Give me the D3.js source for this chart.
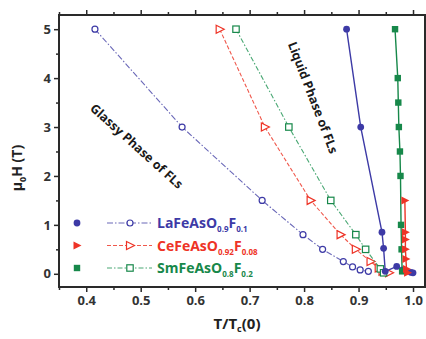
<!DOCTYPE html>
<html><head><meta charset="utf-8">
<script src="https://cdn.jsdelivr.net/npm/d3@7"></script>
<style>body{margin:0;background:#fff}svg{display:block}text{font-family:"Open Sans",sans-serif}</style>
</head><body><svg id="c" width="426" height="339"></svg>
<script>
// Data
const laSolidT = [0.878, 0.904, 0.943, 0.946, 0.949, 0.970, 0.981, 0.996, 1.0];
const laSolidH = [5, 3, 0.85, 0.52, 0.05, 0.15, 0.08, 0.03, 0.02];
const laOpenT = [0.416, 0.576, 0.723, 0.798, 0.834, 0.872, 0.889, 0.903, 0.918];
const laOpenH = [5, 3, 1.5, 0.8, 0.5, 0.25, 0.14, 0.08, 0.05];
const ceSolidT = [0.985, 0.986, 0.986, 0.986, 0.987, 0.988, 0.99];
const ceSolidH = [1.5, 0.85, 0.7, 0.5, 0.3, 0.1, 0.02];
const ceOpenT = [0.645, 0.728, 0.812, 0.867, 0.895, 0.922, 0.937, 0.944, 0.956];
const ceOpenH = [5, 3, 1.5, 0.8, 0.5, 0.25, 0.12, 0.05, 0.02];
const smSolidT = [0.967, 0.972, 0.973, 0.974, 0.976, 0.977, 0.978, 0.979, 0.98];
const smSolidH = [5, 4, 3.5, 3, 2.5, 2, 1, 0.5, 0.05];
const smOpenT = [0.675, 0.772, 0.849, 0.895, 0.913, 0.94, 0.946];
const smOpenH = [5, 3, 1.5, 0.8, 0.5, 0.1, 0.02];
const xTicks = [0.4, 0.5, 0.6, 0.7, 0.8, 0.9, 1.0];
const xTickLabels = ["0.4", "0.5", "0.6", "0.7", "0.8", "0.9", "1.0"];
const yTicks = [0, 1, 2, 3, 4, 5];
const legendNames = [["LaFeAsO","0.9","F","0.1"],["CeFeAsO","0.92","F","0.08"],["SmFeAsO","0.8","F","0.2"]];

const svg = d3.select("#c");
const L = 59, R = 425, T = 15, B = 287;
const x = d3.scaleLinear().domain([0.35, 1.022]).range([L, R]);
const y = d3.scaleLinear().domain([-0.27, 5.29]).range([B, T]);
const ink = "#2a2a2a";

const colors = {la: "#3d3aa6", ce: "#ee3326", sm: "#17884a"};
const lightColors = {la: "#6a68b8", ce: "#f0584c", sm: "#4aa874"};

// Axes
const minorX = d3.range(0.35, 1.03, 0.05).map(v => +v.toFixed(2)).filter(v => !xTicks.some(t => Math.abs(t - v) < 1e-6));
const minorY = [0.5, 1.5, 2.5, 3.5, 4.5];
function axisG(gen, tr) { return svg.append("g").attr("transform", tr).call(gen); }
axisG(d3.axisBottom(x).tickValues(xTicks).tickFormat((d,i) => xTickLabels[i]).tickSize(5).tickPadding(4), `translate(0,${B})`);
axisG(d3.axisBottom(x).tickValues(minorX).tickFormat("").tickSize(3), `translate(0,${B})`);
axisG(d3.axisTop(x).tickValues(xTicks).tickFormat("").tickSize(5), `translate(0,${T})`);
axisG(d3.axisTop(x).tickValues(minorX).tickFormat("").tickSize(3), `translate(0,${T})`);
axisG(d3.axisLeft(y).tickValues(yTicks).tickFormat(d3.format("d")).tickSize(5).tickPadding(3), `translate(${L},0)`);
axisG(d3.axisLeft(y).tickValues(minorY).tickFormat("").tickSize(3), `translate(${L},0)`);
axisG(d3.axisRight(y).tickValues(yTicks).tickFormat("").tickSize(5), `translate(${R},0)`);
svg.selectAll(".domain").remove();
svg.selectAll(".tick line").attr("stroke", ink).attr("stroke-width", 1.5);
svg.selectAll(".tick text").attr("fill", "#333").attr("font-size", 13).attr("font-weight", 700).attr("font-family", "'Open Sans',sans-serif");
svg.append("rect").attr("x", L).attr("y", T).attr("width", R - L).attr("height", B - T)
  .attr("fill", "none").attr("stroke", ink).attr("stroke-width", 2);

// Axis titles
const xt = svg.append("text").attr("x", 237).attr("y", 329).attr("text-anchor", "middle")
  .attr("font-size", 15).attr("font-weight", 700).attr("fill", "#222");
xt.append("tspan").text("T/T");
xt.append("tspan").text("c").attr("font-size", 9).attr("dy", 3);
xt.append("tspan").text("(0)").attr("dy", -3);
const yt = svg.append("text").attr("transform", "translate(22,168) rotate(-90)").attr("text-anchor", "middle")
  .attr("font-size", 14).attr("font-weight", 700).attr("fill", "#222");
yt.append("tspan").text("μ");
yt.append("tspan").text("0").attr("font-size", 9).attr("dy", 4);
yt.append("tspan").text("H (T)").attr("dy", -4);

// Series
const series = [
  {k: "la", t: laOpenT, h: laOpenH, open: true, dash: "6,2,1.5,2", shape: "circle"},
  {k: "ce", t: ceOpenT, h: ceOpenH, open: true, dash: "4,2", shape: "tri"},
  {k: "sm", t: smOpenT, h: smOpenH, open: true, dash: "5,2,1.5,2", shape: "square"},
  {k: "la", t: laSolidT, h: laSolidH, open: false, dash: null, shape: "circle"},
  {k: "sm", t: smSolidT, h: smSolidH, open: false, dash: null, shape: "square"},
  {k: "ce", t: ceSolidT, h: ceSolidH, open: false, dash: null, shape: "tri"},
];
const line = d3.line().x(d => x(d[0])).y(d => y(d[1]));
function marker(g, shape, open, col, px, py) {
  let m;
  if (shape === "circle") m = g.append("circle").attr("cx", px).attr("cy", py).attr("r", open ? 3 : 3.4);
  else if (shape === "square") m = g.append("rect").attr("x", px - 3.2).attr("y", py - 3.2).attr("width", 6.4).attr("height", 6.4);
  else m = g.append("path").attr("d", `M${px-3.5},${py-4}L${px+4.5},${py}L${px-3.5},${py+4}Z`);
  if (open) m.attr("fill", "#fff").attr("stroke", col).attr("stroke-width", 1.2);
  else m.attr("fill", col).attr("stroke", "none");
}
series.forEach(s => {
  const pts = s.t.map((v, i) => [v, s.h[i]]);
  const col = s.open ? lightColors[s.k] : colors[s.k];
  svg.append("path").attr("d", line(pts)).attr("fill", "none").attr("stroke", col)
    .attr("stroke-width", s.open ? 1.1 : 1.4).attr("stroke-dasharray", s.dash);
  const g = svg.append("g");
  pts.forEach(p => marker(g, s.shape, s.open, colors[s.k], x(p[0]), y(p[1])));
});

// Phase labels
svg.append("text").attr("transform", "translate(136,147) rotate(42)").attr("text-anchor", "middle")
  .attr("dominant-baseline", "middle").attr("font-size", 12.5).attr("font-weight", 700).attr("fill", "#1a1a1a")
  .text("Glassy Phase of FLs");
svg.append("text").attr("transform", "translate(312,98) rotate(69)").attr("text-anchor", "middle")
  .attr("dominant-baseline", "middle").attr("font-size", 12.5).attr("font-weight", 700).attr("fill", "#1a1a1a")
  .text("Liquid Phase of FLs");

// Legend
const legendKeys = ["la", "ce", "sm"];
const legendShapes = ["circle", "tri", "square"];
const legendDash = ["6,2,1.5,2", "4,2", "5,2,1.5,2"];
const ly = [223, 245.5, 268];
legendKeys.forEach((k, i) => {
  const g = svg.append("g");
  marker(g, legendShapes[i], false, colors[k], 77, ly[i]);
  g.append("line").attr("x1", 107).attr("x2", 152).attr("y1", ly[i]).attr("y2", ly[i])
    .attr("stroke", lightColors[k]).attr("stroke-width", 1.1).attr("stroke-dasharray", legendDash[i]);
  marker(g, legendShapes[i], true, colors[k], 130, ly[i]);
  const t = g.append("text").attr("x", 157).attr("y", ly[i] + 5).attr("font-size", 14).attr("font-weight", 700).attr("fill", colors[k]);
  const n = legendNames[i];
  t.append("tspan").text(n[0]);
  t.append("tspan").text(n[1]).attr("font-size", 8).attr("dy", 4);
  t.append("tspan").text(n[2]).attr("dy", -4);
  t.append("tspan").text(n[3]).attr("font-size", 8).attr("dy", 4);
});
</script></body></html>
